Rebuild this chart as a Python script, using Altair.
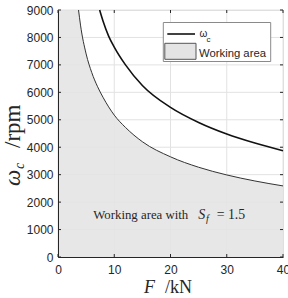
import altair as alt
import pandas as pd

# ---- data ----
F_outer = [7.4, 8, 9, 10, 12, 15, 20, 25, 30, 35, 40]
w_outer = [9000, 8600, 8050, 7650, 7000, 6250, 5450, 4900, 4480, 4150, 3870]

F_inner = [0, 3.65, 4, 5, 6, 7, 8, 10, 12, 15, 20, 25, 30, 35, 40]
w_inner = [9000, 9000, 8450, 7400, 6720, 6220, 5820, 5170, 4720, 4200, 3650, 3270, 2990, 2770, 2590]

x_ticks = [0, 10, 20, 30, 40]
y_ticks = [0, 1000, 2000, 3000, 4000, 5000, 6000, 7000, 8000, 9000]

W, H = 225, 247
AX = "#262626"
FILL = "#e4e4e4"
SANS = "Liberation Sans"
SERIF = "Liberation Serif"

outer_df = pd.DataFrame({"F": F_outer, "w": w_outer})
inner_df = pd.DataFrame({"F": F_inner, "w": w_inner})
xt_df = pd.DataFrame({"F": x_ticks})
yt_df = pd.DataFrame({"w": y_ticks})
one = pd.DataFrame({"a": [0]})

xs = alt.Scale(domain=[0, 40], nice=False)
ys = alt.Scale(domain=[0, 9000], nice=False)

xax = alt.Axis(values=x_ticks, title=None, grid=False, ticks=False, domainColor=AX,
               labelFont=SANS, labelFontSize=12, labelColor=AX, labelPadding=7,
               labelFlush=False, labelOverlap=False, format="d", zindex=2)
yax = alt.Axis(values=y_ticks, title=None, grid=False, ticks=False, domainColor=AX,
               labelFont=SANS, labelFontSize=12, labelColor=AX, labelPadding=5,
               labelOverlap=False, format="d", zindex=2)

def X(f="F"):
    return alt.X(f + ":Q", scale=xs, axis=xax)

def Y(f="w"):
    return alt.Y(f + ":Q", scale=ys, axis=yax)

# grid
gx = alt.Chart(xt_df).mark_rule(color="#e2e2e2", strokeWidth=1).encode(
    x=X(), y=alt.value(0), y2=alt.value(H))
gy = alt.Chart(yt_df).mark_rule(color="#e2e2e2", strokeWidth=1).encode(
    y=Y(), x=alt.value(0), x2=alt.value(W))

area = alt.Chart(inner_df).mark_area(color=FILL, opacity=0.88, interpolate="monotone").encode(
    x=X(), y=Y())
inner_line = alt.Chart(inner_df).transform_filter("datum.F >= 3.6").mark_line(
    color="#333333", strokeWidth=1, interpolate="monotone").encode(x=X(), y=Y())
outer_line = alt.Chart(outer_df).mark_line(
    color="#111111", strokeWidth=1.6, interpolate="monotone").encode(x=X(), y=Y())

# inward ticks
tk = dict(color=AX, strokeWidth=1)
tb = alt.Chart(xt_df).mark_rule(**tk).encode(x=X(), y=alt.value(H), y2=alt.value(H - 3))
tt = alt.Chart(xt_df).mark_rule(**tk).encode(x=X(), y=alt.value(0), y2=alt.value(3))
tl = alt.Chart(yt_df).mark_rule(**tk).encode(y=Y(), x=alt.value(0), x2=alt.value(3))
tr = alt.Chart(yt_df).mark_rule(**tk).encode(y=Y(), x=alt.value(W - 3), x2=alt.value(W))

def txt(s, x, y, font=SERIF, size=14, style="normal", angle=0, baseline="alphabetic", color="#262626"):
    return alt.Chart(one).mark_text(text=s, font=font, fontSize=size, fontStyle=style, angle=angle,
                                    align="left", baseline=baseline, color=color).encode(
        x=alt.value(x), y=alt.value(y))

# annotation
ann = [
    txt("Working area with", 35.3, 209.3, size=12.8),
    txt("S", 140.3, 209.3, size=14, style="italic"),
    txt("f", 148, 212.3, size=10, style="italic"),
    txt("= 1.5", 158.7, 209.3, size=13.8),
]

# axis titles
titles = [
    txt("F", 86, 282.5, size=18, style="italic"),
    txt("/kN", 107, 282.5, size=18),
    txt("ω", -38, 176, size=23, style="italic", angle=270),
    txt("c", -34, 159, size=14, style="italic", angle=270),
    txt("/rpm", -38, 138, size=23, angle=270),
]

# legend
leg_box = alt.Chart(one).mark_rect(fill="white", stroke="#8a8a8a", strokeWidth=1).encode(
    x=alt.value(105.3), x2=alt.value(212.7), y=alt.value(12.5), y2=alt.value(51.5))
leg_line = alt.Chart(one).mark_rule(color="#111111", strokeWidth=1.6).encode(
    x=alt.value(109.3), x2=alt.value(137), y=alt.value(24), y2=alt.value(24))
leg_sw = alt.Chart(one).mark_rect(fill=FILL, stroke="#555555", strokeWidth=1).encode(
    x=alt.value(106.8), x2=alt.value(138), y=alt.value(33.3), y2=alt.value(49.3))
leg_txt = [
    txt("ω", 141.5, 26.5, font=SANS, size=10),
    txt("c", 148.5, 31.5, font=SANS, size=8),
    txt("Working area", 141, 46.5, font=SANS, size=11.3),
]

chart = alt.layer(
    gx, gy, area, inner_line, outer_line, tb, tt, tl, tr,
    *ann, *titles, leg_box, leg_line, leg_sw, *leg_txt
).properties(
    width=W, height=H,
    autosize=alt.AutoSizeParams(type="none"),
    padding={"left": 58, "top": 10, "right": 5, "bottom": 41},
).configure_view(stroke=AX, strokeWidth=1).configure(background="white")

chart.save("out.html", embed_options={"renderer": "svg", "actions": False})
